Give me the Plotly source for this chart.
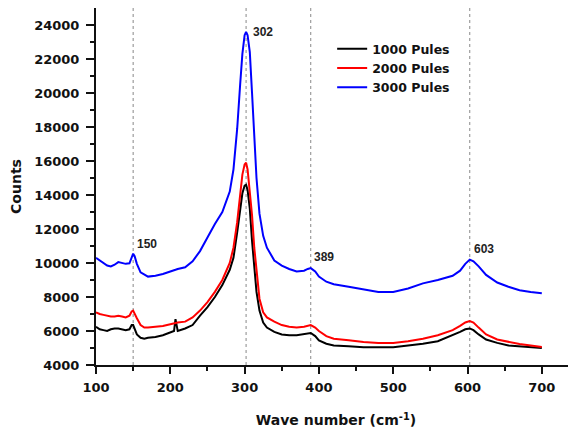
import plotly.graph_objects as go

wavenumber = [100, 105, 110, 115, 120, 125, 130, 135, 140, 145, 148, 150, 152, 155, 160, 165, 170, 180, 190, 200,
              205, 207, 210, 220, 230, 240, 250, 260, 270, 280, 285, 290, 294, 297, 300, 302, 304, 307, 310, 313,
              316, 320, 325, 330, 340, 350, 360, 370, 380, 385, 389, 395, 400, 410, 420, 440, 460, 480, 500, 520,
              540, 560, 580, 590, 597, 603, 608, 615, 625, 640, 655, 670, 685, 700]

counts_1000 = [6250, 6100, 6050, 6000, 6100, 6150, 6150, 6100, 6050, 6100, 6350, 6350, 6100, 5800, 5600, 5550, 5600, 5650, 5750, 5900,
               6000, 6700, 6000, 6150, 6350, 6900, 7400, 8000, 8700, 9600, 10300, 11800, 13300, 14100, 14550, 14600, 14300, 13200, 11300, 9600,
               8300, 7200, 6500, 6200, 5950, 5800, 5750, 5750, 5800, 5850, 5880, 5700, 5450, 5250, 5150, 5100, 5050, 5050, 5050, 5150,
               5250, 5400, 5750, 5950, 6100, 6150, 6050, 5800, 5500, 5300, 5150, 5100, 5050, 5000]

counts_2000 = [7100, 7000, 6950, 6900, 6850, 6850, 6900, 6850, 6800, 6900, 7150, 7200, 7000, 6750, 6350, 6200, 6200, 6250, 6300, 6400,
               6450, 6450, 6500, 6550, 6800, 7200, 7700, 8300, 9000, 10000, 10900, 12400, 14000, 15200, 15800, 15900, 15500, 14300, 12800, 10900,
               9400, 7900, 7100, 6800, 6550, 6350, 6250, 6200, 6250, 6300, 6350, 6200, 6000, 5700, 5550, 5450, 5350, 5300, 5300, 5400,
               5550, 5750, 6050, 6300, 6500, 6580, 6500, 6200, 5800, 5500, 5350, 5230, 5150, 5060]

counts_3000 = [10300, 10150, 10050, 9850, 9800, 9900, 10050, 10000, 9950, 9980, 10300, 10550, 10400, 9950, 9450, 9300, 9200, 9250, 9350, 9500,
               9550, 9600, 9650, 9750, 10100, 10700, 11500, 12300, 13000, 14200, 15500, 17900, 20500, 22300, 23400, 23600, 23400, 22400, 20000, 17500,
               15000, 12900, 11600, 10900, 10150, 9850, 9650, 9500, 9550, 9650, 9700, 9500, 9200, 8900, 8750, 8600, 8450, 8300, 8300, 8500,
               8800, 9000, 9250, 9550, 9950, 10200, 10100, 9800, 9300, 8850, 8600, 8400, 8300, 8220]

series_names = ["1000 Pules", "2000 Pules", "3000 Pules"]
series_colors = ["#000000", "#ff0000", "#0000ff"]
peaks = [150, 302, 389, 603]
peak_labels = ["150", "302", "389", "603"]

x_ticks = [100, 200, 300, 400, 500, 600, 700]
y_ticks = [4000, 6000, 8000, 10000, 12000, 14000, 16000, 18000, 20000, 22000, 24000]

fig = go.Figure()
for i, (name, vals, col) in enumerate(zip(series_names, [counts_1000, counts_2000, counts_3000], series_colors)):
    fig.add_trace(go.Scatter(x=wavenumber, y=vals, mode="lines", name=name,
                             line=dict(color=col, width=2), legendgroup=f"g{i}"))

for p in peaks:
    fig.add_shape(type="line", xref="x", yref="paper", x0=p, x1=p, y0=0, y1=1,
                  line=dict(color="#888888", width=1, dash="dot"), layer="below")

label_pos = [(152.5, 11100), (308, 23600), (391, 10330), (606, 10800)]
for txt, (lx, ly) in zip(peak_labels, label_pos):
    fig.add_annotation(x=lx, y=ly, text=txt, showarrow=False, xanchor="left", yanchor="middle",
                       font=dict(family="Liberation Sans", size=12, color="#222222", weight="bold"))

axis_font = dict(family="DejaVu Sans", size=13, color="#111111", weight="bold")
fig.update_xaxes(range=[100, 746], tickvals=x_ticks, ticktext=[str(v) for v in x_ticks],
                 ticks="outside", ticklen=7, tickwidth=2, tickcolor="#111111", ticklabelstandoff=2,
                 minor=dict(tickvals=[150, 250, 350, 450, 550, 650, 750], ticks="outside", ticklen=4, tickwidth=2, tickcolor="#111111"),
                 showline=True, linewidth=2, linecolor="#111111", mirror=True,
                 showgrid=False, zeroline=False, tickfont=axis_font, automargin=False,
                 title=dict(text="Wave number (cm<sup>-1</sup>)", standoff=22,
                            font=dict(family="DejaVu Sans", size=14, color="#111111", weight="bold")))
fig.update_yaxes(range=[4000, 25000], tickvals=y_ticks, ticktext=[str(v) for v in y_ticks],
                 ticks="outside", ticklen=8, tickwidth=2, tickcolor="#111111", ticklabelstandoff=4,
                 minor=dict(tickvals=[5000 + 2000 * k for k in range(10)], ticks="outside", ticklen=4, tickwidth=2, tickcolor="#111111"),
                 showline=True, linewidth=2, linecolor="#111111",
                 showgrid=False, zeroline=False, tickfont=axis_font, automargin=False,
                 title=dict(text="Counts", standoff=9,
                            font=dict(family="DejaVu Sans", size=14, color="#111111", weight="bold")))

fig.update_layout(width=576, height=430, margin=dict(l=88, r=8, t=0, b=73),
                  plot_bgcolor="white", paper_bgcolor="white",
                  legend=dict(x=0.492, y=0.927, xanchor="left", yanchor="top", tracegroupgap=0,
                              bgcolor="rgba(0,0,0,0)",
                              font=dict(family="DejaVu Sans", size=12.5, color="#111111", weight="bold")),
                  showlegend=True)

fig.write_html("out.html")
